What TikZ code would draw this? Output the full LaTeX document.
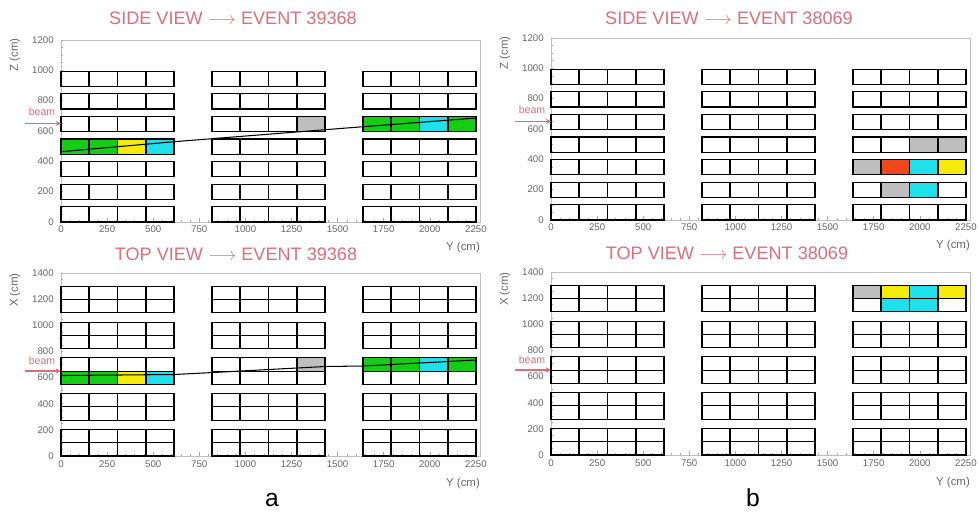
\documentclass[tikz,border=0pt]{standalone}
\usepackage{fontspec}
\setmainfont{Liberation Sans}
\usetikzlibrary{arrows.meta}

\definecolor{titlered}{RGB}{220,110,120}
\definecolor{hitgreen}{RGB}{20,205,20}
\definecolor{hityellow}{RGB}{245,235,10}
\definecolor{hitcyan}{RGB}{30,225,235}
\definecolor{hitgray}{RGB}{190,190,190}
\definecolor{hitred}{RGB}{240,70,30}

\tikzset{
  cell/.style={draw=black, line width=0.6pt},
  divider/.style={draw=black, line width=0.9pt},
  frame/.style={draw=black!25, line width=0.4pt},
  tick/.style={draw=black!35, line width=0.3pt},
  ticklabel/.style={font=\fontsize{5.5}{6}\selectfont, text=black!60, inner sep=0pt},
  axislabel/.style={font=\fontsize{6.5}{7}\selectfont, text=black!60, inner sep=0pt},
  title/.style={font=\fontsize{10.3}{12}\selectfont, text=titlered, inner sep=0pt},
  beamlabel/.style={font=\fontsize{6}{7}\selectfont, text=titlered, inner sep=0pt},
  beamarrow/.style={draw=titlered, line width=0.6pt, -{Stealth[length=3pt,width=3pt]}},
  track/.style={draw=black, line width=0.6pt},
  panellabel/.style={font=\fontsize{14}{16}\selectfont, inner sep=0pt, anchor=base}
}

\begin{document}
\begin{tikzpicture}[x=0.02cm, y=-0.02cm]
  \useasboundingbox (0,0) rectangle (978,512);

  % titles
  \node[title] (sideA) at (233,18) {SIDE VIEW $\longrightarrow$ EVENT 39368};
  \node[title] (topA) at (236,254) {TOP VIEW $\longrightarrow$ EVENT 39368};
  \node[title] (sideB) at (729,18) {SIDE VIEW $\longrightarrow$ EVENT 38069};
  \node[title] (topB) at (727,253) {TOP VIEW $\longrightarrow$ EVENT 38069};

  % hit cells, side views
  \begin{scope}[shift={(61,222)}]
    \foreach \b/\c/\k/\col in {0/0/3/hitgreen, 0/1/3/hitgreen, 0/2/3/hityellow, 0/3/3/hitcyan,
                               1/3/4/hitgray, 2/0/4/hitgreen, 2/1/4/hitgreen, 2/2/4/hitcyan, 2/3/4/hitgreen}
      \fill[\col] ({151*\b+28.25*\c},{-22.6*\k}) rectangle +(28.25,-15.2);
  \end{scope}
  \begin{scope}[shift={(551,220)}]
    \foreach \b/\c/\k/\col in {2/2/3/hitgray, 2/3/3/hitgray, 2/0/2/hitgray, 2/1/2/hitred,
                               2/2/2/hitcyan, 2/3/2/hityellow, 2/1/1/hitgray, 2/2/1/hitcyan}
      \fill[\col] ({151*\b+28.25*\c},{-22.6*\k}) rectangle +(28.25,-15.2);
  \end{scope}

  % hit cells, top views (h = 0 lower half, h = 1 upper half)
  \begin{scope}[shift={(61,456)}]
    \foreach \b/\c/\k/\h/\col in {0/0/2/0/hitgreen, 0/1/2/0/hitgreen, 0/2/2/0/hityellow, 0/3/2/0/hitcyan,
                                  1/3/2/1/hitgray, 2/0/2/1/hitgreen, 2/1/2/1/hitgreen, 2/2/2/1/hitcyan, 2/3/2/1/hitgreen}
      \fill[\col] ({151*\b+28.25*\c},{-35.8*\k-13.25*\h}) rectangle +(28.25,-13.25);
  \end{scope}
  \begin{scope}[shift={(551,455)}]
    \foreach \b/\c/\k/\h/\col in {2/0/4/1/hitgray, 2/1/4/1/hityellow, 2/2/4/1/hitcyan, 2/3/4/1/hityellow,
                                  2/1/4/0/hitcyan, 2/2/4/0/hitcyan}
      \fill[\col] ({151*\b+28.25*\c},{-35.8*\k-13.25*\h}) rectangle +(28.25,-13.25);
  \end{scope}

  % side view panels
  \foreach \ox/\oy in {61/222, 551/220} {
    \begin{scope}[shift={(\ox,\oy)}]
      \draw[frame] (0,0) rectangle (419,-182);
      \foreach \v in {0,50,...,2250}
        \draw[tick] ({0.1844*\v},0) -- +(0,-2);
      \foreach \v in {0,250,...,2250} {
        \draw[tick] ({0.1844*\v},0) -- +(0,-4);
        \node[ticklabel] (ys\ox-\v) at ({0.1844*\v},7) {\v};
      }
      \foreach \v in {0,50,...,1200}
        \draw[tick] (0,{-0.1517*\v}) -- +(2,0);
      \foreach \v in {0,200,...,1200}
        \node[ticklabel, anchor=east] (zs\ox-\v) at (-7,{-0.1517*\v}) {\v};
      \foreach \b in {0,1,2}
        \foreach \k in {0,...,6} {
          \draw[cell] ({151*\b},{-22.6*\k}) rectangle +(113,-15.2);
          \foreach \c in {1,2,3}
            \draw[divider] ({151*\b+28.25*\c},{-22.6*\k}) -- +(0,-15.2);
        }
      \node[axislabel, rotate=90] (zlabel\ox) at (-46,-167) {Z (cm)};
      \node[axislabel] (ylabel\ox) at (402,26) {Y (cm)};
      \coordinate (beamin\ox) at (-36,-98.6);
      \coordinate (beamend\ox) at (0,-98.6);
      \draw[beamarrow] (beamin\ox) -- (beamend\ox);
      \node[beamlabel] (beam\ox) at (-19,-110) {beam};
    \end{scope}
  }

  % top view panels
  \foreach \ox/\oy in {61/456, 551/455} {
    \begin{scope}[shift={(\ox,\oy)}]
      \draw[frame] (0,0) rectangle (419,-183);
      \foreach \v in {0,50,...,2250}
        \draw[tick] ({0.1844*\v},0) -- +(0,-2);
      \foreach \v in {0,250,...,2250} {
        \draw[tick] ({0.1844*\v},0) -- +(0,-4);
        \node[ticklabel] (yt\ox-\v) at ({0.1844*\v},8) {\v};
      }
      \foreach \v in {0,50,...,1400}
        \draw[tick] (0,{-0.1307*\v}) -- +(2,0);
      \foreach \v in {0,200,...,1400}
        \node[ticklabel, anchor=east] (xt\ox-\v) at (-7,{-0.1307*\v}) {\v};
      \foreach \b in {0,1,2}
        \foreach \k in {0,...,4} {
          \draw[cell] ({151*\b},{-35.8*\k}) rectangle +(113,-26.5);
          \draw[cell] ({151*\b},{-35.8*\k-13.25}) -- +(113,0);
          \foreach \c in {1,2,3}
            \draw[divider] ({151*\b+28.25*\c},{-35.8*\k}) -- +(0,-26.5);
        }
      \node[axislabel, rotate=90] (xlabel\ox) at (-46,-166) {X (cm)};
      \node[axislabel] (ylabelt\ox) at (402,28) {Y (cm)};
      \coordinate (tbeamin\ox) at (-36,-85);
      \coordinate (tbeamend\ox) at (0,-85);
      \draw[beamarrow] (tbeamin\ox) -- (tbeamend\ox);
      \node[beamlabel] (tbeam\ox) at (-19,-95) {beam};
    \end{scope}
  }

  % reconstructed tracks, event 39368
  \coordinate (s1) at (61,151.7);
  \coordinate (s2) at (174,141.7);
  \coordinate (s3) at (363,126.7);
  \coordinate (s4) at (476,118);
  \draw[track] (s1) -- (s2) -- (s3) -- (s4);
  \coordinate (t1) at (61,375.5);
  \coordinate (t2) at (174,374.5);
  \coordinate (t3) at (213,372.5);
  \coordinate (t4) at (325,366.5);
  \coordinate (t5) at (363,366);
  \coordinate (t6) at (476,360);
  \draw[track] (t1) -- (t2) -- (t3) -- (t4) -- (t5) -- (t6);

  % panel letters
  \node[panellabel] (a) at (272,506) {a};
  \node[panellabel] (b) at (753,506) {b};
\end{tikzpicture}
\end{document}
